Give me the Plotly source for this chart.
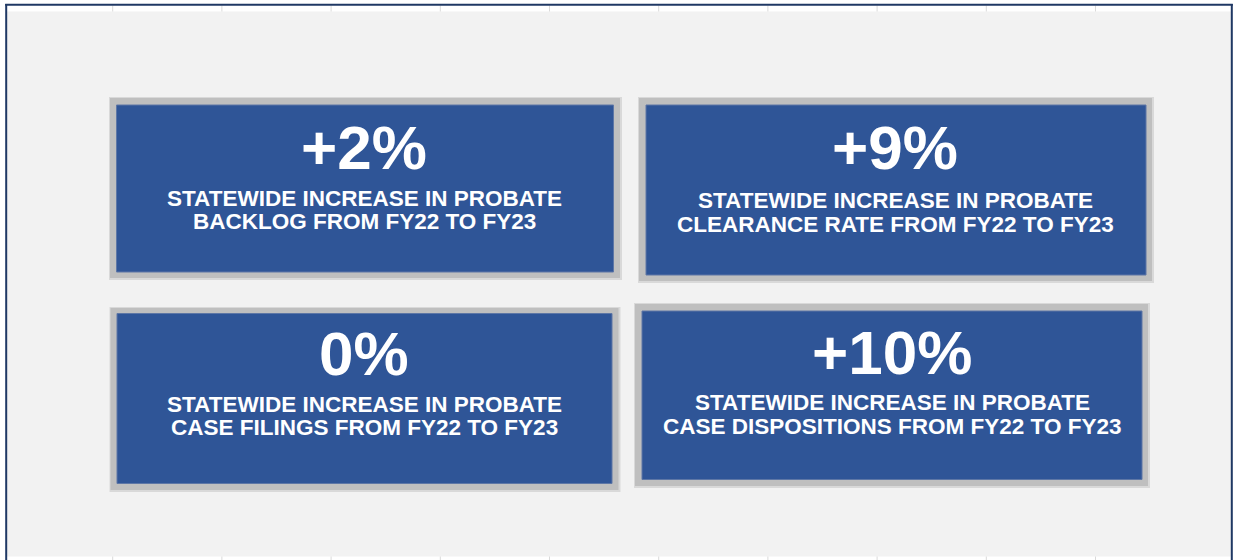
import plotly.graph_objects as go

# ---- data ----
metrics = ["BACKLOG", "CLEARANCE RATE", "CASE FILINGS", "CASE DISPOSITIONS"]
pct_change = [2, 9, 0, 10]
period_from = "FY22"
period_to = "FY23"
subject = "STATEWIDE INCREASE IN PROBATE"

# ---- layout (pixel boxes: outer gray frame, inner blue tile) ----
W, H = 1235, 560
tiles = [
    dict(outer=(110, 98, 620, 278), inner=(116.5, 105, 613.5, 272), cx=364, ny=147.5, l1=198, l2=221.5),
    dict(outer=(639, 98, 1152, 281), inner=(646, 105, 1146, 275), cx=895, ny=147.5, l1=200.5, l2=224.5),
    dict(outer=(110.5, 308, 618.5, 490), inner=(117, 313.5, 612, 483.5), cx=364, ny=353, l1=404, l2=427.5),
    dict(outer=(635, 304, 1148, 486), inner=(642, 311, 1142, 479.5), cx=892, ny=352.5, l1=402.5, l2=426.5),
]

BLUE = "#2F5597"
GRAY = "#BFBFBF"
BG = "#F2F2F2"
NAVY = "#1F3864"
FONT = "Liberation Sans, Arial, sans-serif"

fig = go.Figure()
# invisible trace to anchor axes
fig.add_trace(go.Scatter(x=[0, W], y=[0, H], mode="markers",
                         marker=dict(opacity=0), hoverinfo="skip", showlegend=False))

shapes = []
# gray canvas area
shapes.append(dict(type="rect", xref="x", yref="y", x0=7, y0=11.5, x1=1231, y1=556.5,
                   fillcolor=BG, line=dict(width=0), layer="below"))
# faint cell grid ticks (top and bottom white strips)
for k in range(10):
    gx = 112.7 + 109.2 * k
    shapes.append(dict(type="line", xref="x", yref="y", x0=gx, x1=gx, y0=5.5, y1=11.5,
                       line=dict(color="#DADADA", width=1), layer="below"))
    shapes.append(dict(type="line", xref="x", yref="y", x0=gx, x1=gx, y0=556.5, y1=560,
                       line=dict(color="#DADADA", width=1), layer="below"))
# navy frame (left, top, right)
shapes.append(dict(type="line", xref="x", yref="y", x0=6.2, x1=6.2, y0=4, y1=560,
                   line=dict(color=NAVY, width=2)))
shapes.append(dict(type="line", xref="x", yref="y", x0=5.2, x1=1232.8, y0=4.8, y1=4.8,
                   line=dict(color=NAVY, width=2)))
shapes.append(dict(type="line", xref="x", yref="y", x0=1231.8, x1=1231.8, y0=4, y1=560,
                   line=dict(color=NAVY, width=2)))

for t in tiles:
    ox0, oy0, ox1, oy1 = t["outer"]
    ix0, iy0, ix1, iy1 = t["inner"]
    # soft shadow
    shapes.append(dict(type="rect", xref="x", yref="y", x0=ox0 - 1, y0=oy0 - 1, x1=ox1 + 2, y1=oy1 + 2,
                       fillcolor="#D9D9D9", line=dict(width=0)))
    shapes.append(dict(type="rect", xref="x", yref="y", x0=ox0, y0=oy0, x1=ox1, y1=oy1,
                       fillcolor=GRAY, line=dict(width=0)))
    shapes.append(dict(type="rect", xref="x", yref="y", x0=ix0, y0=iy0, x1=ix1, y1=iy1,
                       fillcolor=BLUE, line=dict(color="#5E77A6", width=1)))

annotations = []
for t, m, v in zip(tiles, metrics, pct_change):
    label = f"+{v}%" if v > 0 else f"{v}%"
    annotations.append(dict(x=t["cx"], y=t["ny"], xref="x", yref="y", text=f"<b>{label}</b>",
                            showarrow=False, xanchor="center", yanchor="middle",
                            font=dict(family=FONT, size=62, color="white")))
    annotations.append(dict(x=t["cx"], y=t["l1"], xref="x", yref="y", text=f"<b>{subject}</b>",
                            showarrow=False, xanchor="center", yanchor="middle",
                            font=dict(family=FONT, size=22.5, color="white")))
    annotations.append(dict(x=t["cx"], y=t["l2"], xref="x", yref="y",
                            text=f"<b>{m} FROM {period_from} TO {period_to}</b>",
                            showarrow=False, xanchor="center", yanchor="middle",
                            font=dict(family=FONT, size=22.5, color="white")))

fig.update_layout(
    width=W, height=H,
    margin=dict(l=0, r=0, t=0, b=0),
    paper_bgcolor="white", plot_bgcolor="white",
    xaxis=dict(range=[0, W], visible=False, fixedrange=True),
    yaxis=dict(range=[H, 0], visible=False, fixedrange=True),
    shapes=shapes, annotations=annotations,
    showlegend=False,
)

fig.write_html("out.html", config={"displayModeBar": False},
               post_script="document.body.style.margin='0';document.body.style.overflow='hidden';")
